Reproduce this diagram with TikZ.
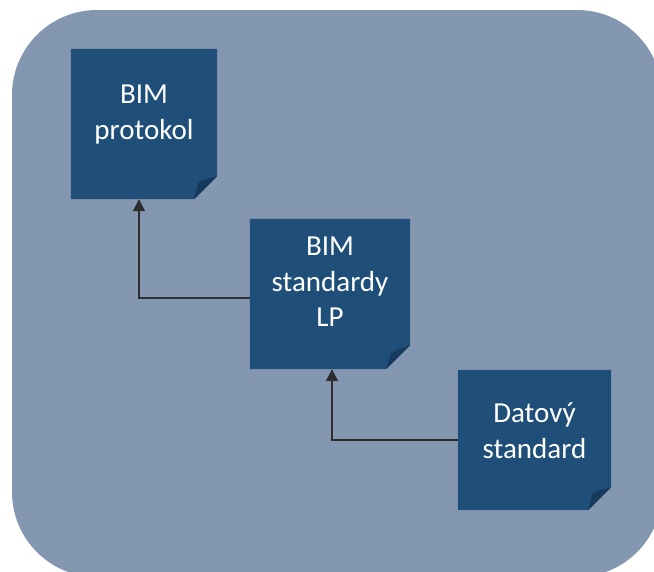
\documentclass[tikz,border=0pt]{standalone}
\usepackage{fontspec}
\setmainfont{Carlito}
\usetikzlibrary{arrows.meta,calc}
\definecolor{bggray}{RGB}{132,151,176}
\definecolor{boxblue}{RGB}{31,78,121}
\definecolor{folddark}{RGB}{22,58,92}
\definecolor{connc}{RGB}{45,45,45}
\tikzset{
  notebox/.style={rectangle,inner sep=0pt,minimum width=#1,draw=none},
  lbl/.style={text=white,align=center,font=\fontsize{29}{35.5}\selectfont,inner sep=0pt},
  conn/.style={draw=connc,line width=1.5pt,-{Triangle[length=12pt,width=12pt]}},
}
\newcommand{\foldbox}[2]{%
  \fill[boxblue] (#1.north west) -- (#1.north east) -- ([yshift=#2]#1.south east)
    -- ([xshift=-#2]#1.south east) -- (#1.south west) -- cycle;
  \fill[folddark] ([yshift=#2]#1.south east) .. controls ([xshift=-12pt,yshift=20pt]#1.south east) .. ([xshift=-19pt,yshift=16pt]#1.south east)
    -- ([xshift=-#2]#1.south east) -- cycle;
}
\begin{document}
\begin{tikzpicture}[x=1pt,y=-1pt]
\useasboundingbox (0,0) rectangle (654,571);
\begin{scope}
\clip (0,0) rectangle (654,571);
\fill[bggray,rounded corners=85pt] (12,10) rectangle (662,577);
\end{scope}
% boxes
\node[notebox=146pt,minimum height=150pt] (b1) at (144,124) {};
\node[notebox=160pt,minimum height=150pt] (b2) at (330,294) {};
\node[notebox=153pt,minimum height=140pt] (b3) at (534.5,440) {};
\foldbox{b1}{23pt}
\foldbox{b2}{24pt}
\foldbox{b3}{23pt}
% labels
\node[lbl] (t1) at ([yshift=9.5pt]b1.center) {BIM\\protokol};
\node[lbl] (t2) at ([yshift=12pt]b2.center) {BIM\\standardy\\LP};
\node[lbl] (t3) at ([yshift=9.5pt]b3.center) {Datový\\standard};
% connectors
\draw[conn] ([yshift=-4pt]b2.west) -| ([xshift=-5pt]b1.south);
\draw[conn] (b3.west) -| ([xshift=2pt]b2.south);
\end{tikzpicture}
\end{document}
